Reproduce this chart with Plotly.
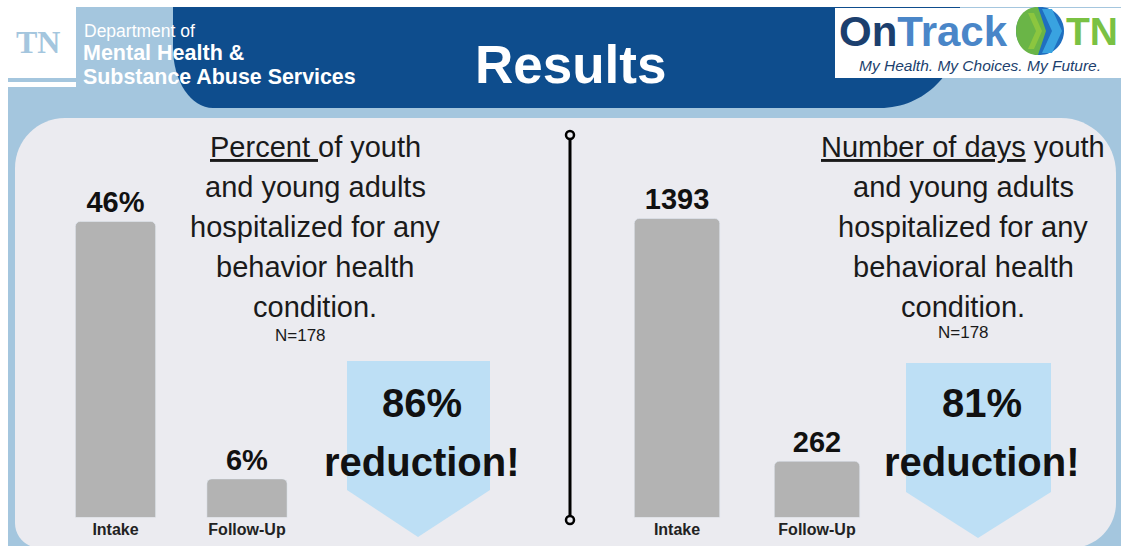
import plotly.graph_objects as go

W, H = 1121, 546

# ---- data ----
categories = ["Intake", "Follow-Up"]
pct_hospitalized = [46, 6]
days_hospitalized = [1393, 262]
pct_reduction = "86%"
days_reduction = "81%"
n_left = "N=178"
n_right = "N=178"
left_lines = ["<u>Percent </u>of youth", "and young adults", "hospitalized for any",
              "behavior health", "condition."]
right_lines = ["<u>Number of days</u> youth", "and young adults", "hospitalized for any",
               "behavioral health", "condition."]

# ---- colours ----
LIGHT_BLUE = "#a4c6de"
DARK_BLUE = "#0e4d8d"
PANEL = "#ebebf0"
ARROW = "#bddff5"
BAR = "#b3b3b3"
TEXT = "#1a1a1a"


def px(x, y):
    return x / W, 1 - y / H


def pt(x, y):
    a, b = px(x, y)
    return f"{a:.5f},{b:.5f}"


K = 0.5523


def rrect(x0, y0, x1, y1, rtl, rtr, rbr, rbl):
    d = f"M{pt(x0 + rtl, y0)} L{pt(x1 - rtr, y0)} "
    d += f"C{pt(x1 - rtr + K * rtr, y0)} {pt(x1, y0 + rtr - K * rtr)} {pt(x1, y0 + rtr)} "
    d += f"L{pt(x1, y1 - rbr)} "
    d += f"C{pt(x1, y1 - rbr + K * rbr)} {pt(x1 - rbr + K * rbr, y1)} {pt(x1 - rbr, y1)} "
    d += f"L{pt(x0 + rbl, y1)} "
    d += f"C{pt(x0 + rbl - K * rbl, y1)} {pt(x0, y1 - rbl + K * rbl)} {pt(x0, y1 - rbl)} "
    d += f"L{pt(x0, y0 + rtl)} "
    d += f"C{pt(x0, y0 + rtl - K * rtl)} {pt(x0 + rtl - K * rtl, y0)} {pt(x0 + rtl, y0)} Z"
    return d


def poly(points):
    return "M" + " L".join(pt(x, y) for x, y in points) + " Z"


shapes = []


def add_path(d, color, line_color=None, lw=0):
    shapes.append(dict(type="path", xref="paper", yref="paper", path=d,
                       fillcolor=color, line=dict(width=lw, color=line_color or color),
                       layer="below"))


def add_rect(x0, y0, x1, y1, color):
    a0, b0 = px(x0, y0)
    a1, b1 = px(x1, y1)
    shapes.append(dict(type="rect", xref="paper", yref="paper", x0=a0, y0=b1, x1=a1, y1=b0,
                       fillcolor=color, line=dict(width=0), layer="below"))


# background
add_rect(8, 7, W, H, LIGHT_BLUE)

# dark blue header band
dark = (f"M{pt(173, 7)} L{pt(960, 7)} L{pt(960, 28)} "
        f"C{pt(960, 28 + K * 80)} {pt(880 + K * 80, 108)} {pt(880, 108)} "
        f"L{pt(213, 108)} "
        f"C{pt(213 - K * 40, 108)} {pt(173, 48 + K * 60)} {pt(173, 48)} Z")
add_path(dark, DARK_BLUE)

# TN white box
add_rect(8, 7, 76, 87, "white")
add_rect(8, 78, 76, 82, LIGHT_BLUE)

# OnTrack white box
add_rect(835, 8, W, 78, "white")

# logo circle (green/blue with chevron)
cx, cy, r = 1040, 31, 24
circ = (f"M{pt(cx, cy - r)} C{pt(cx + K * r, cy - r)} {pt(cx + r, cy - K * r)} {pt(cx + r, cy)} "
        f"C{pt(cx + r, cy + K * r)} {pt(cx + K * r, cy + r)} {pt(cx, cy + r)} "
        f"C{pt(cx - K * r, cy + r)} {pt(cx - r, cy + K * r)} {pt(cx - r, cy)} "
        f"C{pt(cx - r, cy - K * r)} {pt(cx - K * r, cy - r)} {pt(cx, cy - r)} Z")
add_path(circ, "#1f6fc0")
left_half = (f"M{pt(cx - 2, cy - r)} L{pt(cx + 6, cy)} L{pt(cx - 2, cy + r)} "
             f"C{pt(cx - 2 - K * r, cy + r)} {pt(cx - r, cy + K * r)} {pt(cx - r, cy)} "
             f"C{pt(cx - r, cy - K * r)} {pt(cx - 2 - K * r, cy - r)} {pt(cx - 2, cy - r)} Z")
add_path(left_half, "#6ab547")
add_path(poly([(cx + 2, cy - 22), (cx + 12, cy - 22), (cx + 22, cy), (cx + 12, cy + 22),
               (cx + 2, cy + 22), (cx + 12, cy)]), "#39a3e0")
add_path(poly([(cx - 12, cy - 18), (cx - 6, cy - 18), (cx + 2, cy), (cx - 6, cy + 18),
               (cx - 12, cy + 18), (cx - 4, cy)]), "#8cc63f")

# main panel
add_path(rrect(15, 118, 1116, 548, 50, 55, 45, 25), PANEL)

# arrows
add_path(poly([(347, 361), (490, 361), (490, 490), (418, 537), (347, 490)]), ARROW)
add_path(poly([(906, 363), (1051, 363), (1051, 492), (978, 538), (906, 492)]), ARROW)

# divider
a, b0 = px(570, 139)
_, b1 = px(570, 516)
shapes.append(dict(type="line", xref="paper", yref="paper", x0=a, x1=a, y0=b0, y1=b1,
                   line=dict(color="black", width=3), layer="below"))
for yy in (135, 520):
    x0, y0 = px(566, yy - 4)
    x1, y1 = px(574, yy + 4)
    shapes.append(dict(type="circle", xref="paper", yref="paper", x0=x0, x1=x1, y0=y1, y1=y0,
                       fillcolor=PANEL, line=dict(color="black", width=2.5), layer="above"))

# ---- bars ----
fig = go.Figure()
fig.add_trace(go.Bar(x=categories, y=pct_hospitalized, xaxis="x", yaxis="y",
                     marker=dict(color=BAR, cornerradius=5), texttemplate="%{y}%",
                     textposition="outside", cliponaxis=False,
                     textfont=dict(family="Liberation Sans, Arial", size=29, color="#111", weight="bold")))
fig.add_trace(go.Bar(x=categories, y=days_hospitalized, xaxis="x2", yaxis="y2",
                     marker=dict(color=BAR, cornerradius=5), texttemplate="%{y}",
                     textposition="outside", cliponaxis=False,
                     textfont=dict(family="Liberation Sans, Arial", size=29, color="#111", weight="bold")))

ybot = 1 - 517.5 / H
ytop = 1 - 150 / H
axis_common = dict(showgrid=False, zeroline=False, showline=False, ticks="",
                   tickfont=dict(family="Liberation Sans, Arial", size=16, color="#222", weight="bold"))
fig.update_layout(
    width=W, height=H, margin=dict(l=0, r=0, t=0, b=0),
    paper_bgcolor="white", plot_bgcolor="rgba(0,0,0,0)",
    showlegend=False, bargap=0.39,
    xaxis=dict(domain=[49.75 / W, 312.75 / W], anchor="y", **axis_common),
    yaxis=dict(domain=[ybot, ytop], range=[0, 57.1], visible=False, anchor="x"),
    xaxis2=dict(domain=[607 / W, 887 / W], anchor="y2", **axis_common),
    yaxis2=dict(domain=[ybot, ytop], range=[0, 1712], visible=False, anchor="x2"),
    shapes=shapes,
)

# ---- annotations ----
ann = []


def text(x, y, s, size, color=TEXT, bold=False, family="Liberation Sans, Arial", italic=False, xanchor="center"):
    a, b = px(x, y)
    ann.append(dict(x=a, y=b, xref="paper", yref="paper", text=s, showarrow=False,
                    xanchor=xanchor, yanchor="middle",
                    font=dict(family=family, size=size, color=color,
                              weight="bold" if bold else "normal",
                              style="italic" if italic else "normal")))


text(38, 42, "TN", 32, color=LIGHT_BLUE, bold=True, family="Liberation Serif, DejaVu Serif")
text(82, 31, "Department of", 17.5, color="white", xanchor="left")
text(81, 53, "Mental Health &", 21.5, color="white", bold=True, xanchor="left")
text(81, 77, "Substance Abuse Services", 21.4, color="white", bold=True, xanchor="left")
text(570, 64, "Results", 53, color="white", bold=True)
text(837, 31, "<span style='color:#1c3f6e'>On</span><span style='color:#4a86c8'>Track</span>",
     42, bold=True, xanchor="left")
text(1064, 31, "TN", 39, color="#7ac143", bold=True, xanchor="left")
text(980, 65, "My Health. My Choices. My Future.", 15.5, color="#1c3f6e", italic=True)

for i, s in enumerate(left_lines):
    text(315, 147 + 40 * i, s, 29)
for i, s in enumerate(right_lines):
    text(963, 147 + 40 * i, s, 29)
text(300, 335, n_left, 17)
text(963, 332, n_right, 17)

text(422, 403, pct_reduction, 40, color="#111", bold=True)
text(422, 462, "reduction!", 40, color="#111", bold=True)
text(982, 403, days_reduction, 40, color="#111", bold=True)
text(982, 462, "reduction!", 40, color="#111", bold=True)

fig.update_layout(annotations=ann)
fig.write_html("out.html")
